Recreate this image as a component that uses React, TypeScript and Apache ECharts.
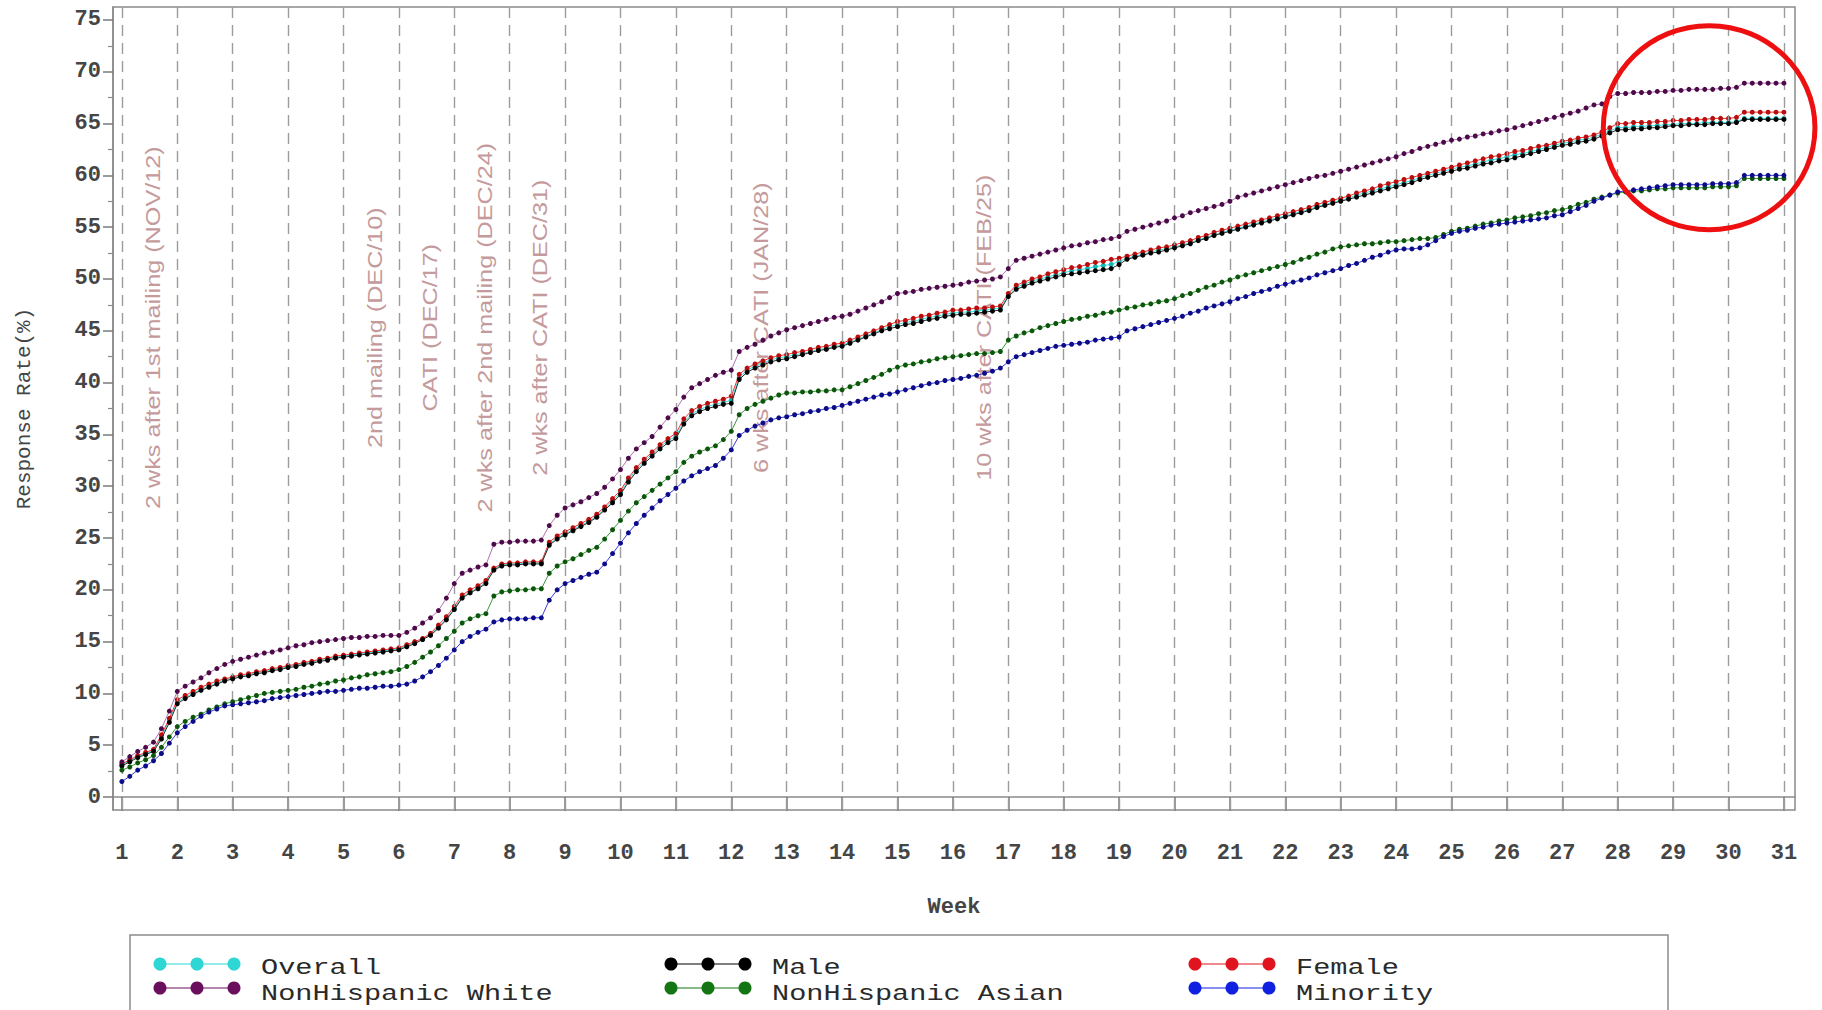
import React, { useEffect, useRef } from "react";
import * as echarts from "echarts";

// Axis ticks
const WEEK_TICKS = [1, 2, 3, 4, 5, 6, 7, 8, 9, 10, 11, 12, 13, 14, 15, 16, 17, 18, 19, 20, 21, 22, 23, 24, 25, 26, 27, 28, 29, 30, 31];
const RATE_TICKS = [0, 5, 10, 15, 20, 25, 30, 35, 40, 45, 50, 55, 60, 65, 70, 75];
const RATE_MINOR_TICKS = [2.5, 7.5, 12.5, 17.5, 22.5, 27.5, 32.5, 37.5, 42.5, 47.5, 52.5, 57.5, 62.5, 67.5, 72.5];

// Daily cumulative response rate (%), one row per week (7 days), last value = week 31
const overall = [
  3.1, 3.5, 3.9, 4.2, 4.5, 5.8, 7.4,
  9.2, 9.6, 10.0, 10.4, 10.7, 11.0, 11.3,
  11.5, 11.7, 11.8, 12.0, 12.1, 12.3, 12.4,
  12.6, 12.7, 12.9, 13.0, 13.2, 13.3, 13.5,
  13.6, 13.7, 13.8, 13.9, 14.0, 14.1, 14.2,
  14.3, 14.6, 14.9, 15.2, 15.7, 16.4, 17.2,
  18.2, 19.3, 19.8, 20.2, 20.7, 22.0, 22.4,
  22.5, 22.5, 22.6, 22.6, 22.6, 24.4, 25.0,
  25.4, 25.8, 26.2, 26.6, 27.1, 27.8, 28.6,
  29.4, 30.6, 31.6, 32.4, 33.1, 33.8, 34.4,
  34.8, 36.2, 37.0, 37.4, 37.7, 37.9, 38.1,
  38.3, 40.5, 41.2, 41.6, 41.9, 42.2, 42.4,
  42.5, 42.7, 42.8, 43.0, 43.2, 43.3, 43.5,
  43.6, 43.9, 44.2, 44.5, 44.8, 45.1, 45.4,
  45.6, 45.8, 45.9, 46.1, 46.3, 46.4, 46.6,
  46.7, 46.8, 46.8, 46.9, 47.0, 47.1, 47.2,
  48.4, 49.2, 49.5, 49.8, 50.0, 50.2, 50.4,
  50.6, 50.8, 50.9, 51.0, 51.2, 51.3, 51.4,
  51.7, 52.0, 52.2, 52.4, 52.6, 52.8, 52.9,
  53.1, 53.3, 53.5, 53.8, 54.0, 54.3, 54.5,
  54.7, 54.9, 55.1, 55.3, 55.5, 55.7, 55.9,
  56.1, 56.3, 56.5, 56.7, 57.0, 57.2, 57.4,
  57.6, 57.8, 58.1, 58.3, 58.5, 58.7, 58.9,
  59.1, 59.3, 59.5, 59.8, 60.0, 60.2, 60.4,
  60.6, 60.8, 60.9, 61.1, 61.3, 61.5, 61.6,
  61.8, 62.0, 62.1, 62.3, 62.5, 62.7, 62.9,
  63.1, 63.2, 63.4, 63.5, 63.7, 64.0, 64.3,
  64.6, 64.6, 64.7, 64.7, 64.8, 64.8, 64.9,
  64.9, 65.0, 65.0, 65.0, 65.1, 65.1, 65.1,
  65.1, 65.2, 65.5, 65.5, 65.5, 65.5, 65.5,
  65.5,
];

const nonHispanicWhite = [
  3.4, 3.9, 4.4, 4.8, 5.3, 6.6, 8.3,
  10.2, 10.7, 11.1, 11.5, 12.0, 12.4, 12.8,
  13.1, 13.3, 13.5, 13.7, 13.9, 14.0, 14.2,
  14.4, 14.6, 14.7, 14.9, 15.0, 15.1, 15.2,
  15.3, 15.4, 15.4, 15.5, 15.5, 15.6, 15.6,
  15.6, 15.9, 16.3, 16.8, 17.3, 18.0, 19.2,
  20.6, 21.6, 21.9, 22.2, 22.4, 24.4, 24.6,
  24.6, 24.7, 24.7, 24.7, 24.8, 26.2, 27.2,
  27.9, 28.2, 28.5, 28.9, 29.3, 29.9, 30.7,
  31.6, 32.7, 33.6, 34.2, 34.8, 35.7, 36.6,
  37.4, 38.6, 39.5, 39.9, 40.3, 40.7, 41.0,
  41.2, 43.0, 43.4, 43.7, 44.1, 44.5, 44.8,
  45.1, 45.3, 45.5, 45.7, 45.9, 46.1, 46.3,
  46.4, 46.6, 46.9, 47.2, 47.5, 47.8, 48.2,
  48.6, 48.7, 48.8, 49.0, 49.1, 49.2, 49.3,
  49.4, 49.5, 49.7, 49.8, 49.9, 50.0, 50.2,
  51.0, 51.8, 52.0, 52.2, 52.4, 52.6, 52.8,
  53.0, 53.2, 53.3, 53.5, 53.6, 53.8, 53.9,
  54.1, 54.6, 54.8, 55.0, 55.2, 55.4, 55.6,
  55.9, 56.1, 56.4, 56.6, 56.8, 57.0, 57.2,
  57.5, 57.9, 58.1, 58.3, 58.5, 58.7, 58.9,
  59.1, 59.3, 59.5, 59.7, 59.9, 60.0, 60.2,
  60.4, 60.6, 60.8, 61.0, 61.2, 61.4, 61.6,
  61.8, 62.1, 62.3, 62.6, 62.8, 63.0, 63.2,
  63.4, 63.5, 63.7, 63.8, 64.0, 64.1, 64.3,
  64.4, 64.6, 64.8, 65.0, 65.2, 65.4, 65.6,
  65.8, 66.0, 66.2, 66.5, 66.8, 66.9, 67.6,
  67.9, 67.9, 68.0, 68.0, 68.0, 68.1, 68.1,
  68.2, 68.2, 68.3, 68.3, 68.3, 68.3, 68.4,
  68.4, 68.5, 68.9, 68.9, 68.9, 68.9, 68.9,
  68.9,
];

const male = [
  3.0, 3.4, 3.8, 4.1, 4.4, 5.6, 7.2,
  9.0, 9.5, 9.9, 10.3, 10.6, 10.9, 11.2,
  11.4, 11.6, 11.7, 11.9, 12.0, 12.2, 12.3,
  12.5, 12.6, 12.8, 12.9, 13.1, 13.2, 13.4,
  13.5, 13.6, 13.7, 13.8, 13.9, 14.0, 14.1,
  14.2, 14.5, 14.8, 15.2, 15.6, 16.3, 17.1,
  18.1, 19.2, 19.7, 20.1, 20.6, 21.9, 22.3,
  22.4, 22.4, 22.5, 22.5, 22.5, 24.3, 24.9,
  25.3, 25.7, 26.1, 26.5, 27.0, 27.7, 28.4,
  29.2, 30.4, 31.4, 32.2, 32.9, 33.6, 34.2,
  34.6, 36.0, 36.8, 37.2, 37.5, 37.7, 37.9,
  38.0, 40.3, 41.0, 41.4, 41.7, 42.0, 42.2,
  42.3, 42.5, 42.7, 42.9, 43.1, 43.2, 43.4,
  43.5, 43.8, 44.1, 44.4, 44.7, 45.0, 45.2,
  45.4, 45.6, 45.7, 45.9, 46.1, 46.2, 46.4,
  46.5, 46.6, 46.6, 46.7, 46.8, 46.9, 47.0,
  48.3, 49.0, 49.3, 49.6, 49.8, 50.0, 50.2,
  50.4, 50.5, 50.6, 50.7, 50.8, 50.9, 51.0,
  51.4, 51.9, 52.1, 52.3, 52.5, 52.6, 52.8,
  53.0, 53.2, 53.4, 53.7, 53.9, 54.2, 54.4,
  54.6, 54.8, 55.0, 55.2, 55.4, 55.6, 55.8,
  56.0, 56.2, 56.4, 56.6, 56.9, 57.1, 57.3,
  57.5, 57.7, 57.9, 58.1, 58.3, 58.5, 58.7,
  58.9, 59.1, 59.3, 59.6, 59.8, 60.0, 60.2,
  60.4, 60.6, 60.7, 60.9, 61.1, 61.2, 61.4,
  61.5, 61.7, 61.9, 62.1, 62.3, 62.5, 62.7,
  62.9, 63.0, 63.2, 63.3, 63.5, 63.8, 64.1,
  64.4, 64.4, 64.5, 64.5, 64.6, 64.6, 64.7,
  64.8, 64.8, 64.9, 64.9, 64.9, 65.0, 65.0,
  65.0, 65.1, 65.4, 65.4, 65.4, 65.4, 65.4,
  65.4,
];

const nonHispanicAsian = [
  2.6, 2.9, 3.3, 3.6, 4.0, 4.8, 5.8,
  6.8, 7.3, 7.7, 8.0, 8.4, 8.7, 9.0,
  9.2, 9.4, 9.6, 9.8, 10.0, 10.1, 10.2,
  10.3, 10.4, 10.6, 10.7, 10.9, 11.0, 11.2,
  11.3, 11.5, 11.6, 11.8, 11.9, 12.0, 12.1,
  12.3, 12.6, 13.0, 13.5, 14.0, 14.6, 15.3,
  16.0, 16.8, 17.2, 17.5, 17.7, 19.4, 19.8,
  19.9, 20.0, 20.0, 20.1, 20.1, 21.6, 22.3,
  22.7, 23.0, 23.4, 23.8, 24.1, 24.9, 25.8,
  26.7, 27.6, 28.4, 29.0, 29.6, 30.2, 30.8,
  31.4, 32.3, 32.9, 33.3, 33.6, 33.9, 34.5,
  35.3, 36.9, 37.5, 37.9, 38.2, 38.5, 38.8,
  39.0, 39.0, 39.1, 39.1, 39.2, 39.2, 39.3,
  39.3, 39.6, 39.9, 40.2, 40.5, 40.8, 41.2,
  41.5, 41.7, 41.8, 42.0, 42.1, 42.3, 42.4,
  42.5, 42.6, 42.7, 42.8, 42.8, 42.9, 43.0,
  44.1, 44.5, 44.8, 45.0, 45.3, 45.5, 45.7,
  45.9, 46.1, 46.2, 46.4, 46.5, 46.7, 46.8,
  47.0, 47.2, 47.3, 47.5, 47.6, 47.8, 47.9,
  48.1, 48.4, 48.6, 48.9, 49.2, 49.4, 49.7,
  49.9, 50.2, 50.4, 50.6, 50.8, 51.0, 51.2,
  51.4, 51.6, 51.9, 52.1, 52.4, 52.6, 52.9,
  53.1, 53.2, 53.3, 53.4, 53.4, 53.5, 53.6,
  53.6, 53.7, 53.8, 53.9, 53.9, 54.0, 54.3,
  54.6, 54.8, 54.9, 55.1, 55.3, 55.4, 55.6,
  55.7, 55.9, 56.0, 56.1, 56.3, 56.4, 56.6,
  56.7, 56.9, 57.2, 57.4, 57.7, 57.9, 58.1,
  58.3, 58.4, 58.5, 58.5, 58.6, 58.7, 58.7,
  58.8, 58.8, 58.8, 58.8, 58.8, 58.9, 58.9,
  58.9, 59.0, 59.7, 59.7, 59.7, 59.7, 59.7,
  59.7,
];

const female = [
  3.2, 3.6, 4.0, 4.3, 4.6, 6.0, 7.6,
  9.4, 9.8, 10.2, 10.6, 10.9, 11.2, 11.4,
  11.6, 11.8, 11.9, 12.1, 12.2, 12.4, 12.5,
  12.7, 12.8, 13.0, 13.1, 13.3, 13.4, 13.6,
  13.7, 13.8, 13.9, 14.0, 14.1, 14.2, 14.3,
  14.4, 14.7, 15.0, 15.3, 15.8, 16.6, 17.4,
  18.4, 19.5, 20.0, 20.4, 20.9, 22.1, 22.5,
  22.6, 22.6, 22.7, 22.7, 22.7, 24.6, 25.2,
  25.6, 26.0, 26.4, 26.8, 27.3, 28.0, 28.8,
  29.6, 30.8, 31.8, 32.6, 33.3, 34.0, 34.6,
  35.1, 36.5, 37.3, 37.7, 38.0, 38.2, 38.4,
  38.7, 40.8, 41.4, 41.8, 42.1, 42.4, 42.6,
  42.7, 42.9, 43.0, 43.2, 43.4, 43.5, 43.7,
  43.8, 44.1, 44.4, 44.7, 45.0, 45.3, 45.6,
  45.9, 46.0, 46.2, 46.4, 46.5, 46.7, 46.8,
  47.0, 47.0, 47.1, 47.2, 47.2, 47.3, 47.4,
  48.6, 49.4, 49.7, 50.0, 50.2, 50.5, 50.7,
  50.9, 51.1, 51.2, 51.4, 51.6, 51.7, 51.9,
  52.0, 52.2, 52.4, 52.6, 52.8, 53.0, 53.1,
  53.3, 53.5, 53.7, 54.0, 54.2, 54.5, 54.7,
  54.9, 55.1, 55.3, 55.5, 55.7, 55.9, 56.1,
  56.3, 56.5, 56.7, 56.9, 57.2, 57.4, 57.6,
  57.8, 58.0, 58.3, 58.5, 58.7, 59.0, 59.2,
  59.4, 59.6, 59.8, 60.0, 60.2, 60.4, 60.6,
  60.8, 61.0, 61.2, 61.4, 61.6, 61.8, 61.9,
  62.1, 62.3, 62.4, 62.6, 62.8, 62.9, 63.1,
  63.3, 63.4, 63.6, 63.7, 63.9, 64.2, 64.6,
  65.0, 65.0, 65.1, 65.1, 65.1, 65.2, 65.2,
  65.3, 65.3, 65.4, 65.4, 65.4, 65.5, 65.5,
  65.5, 65.6, 66.1, 66.1, 66.1, 66.1, 66.1,
  66.1,
];

const minority = [
  1.5, 2.0, 2.6, 3.0, 3.5, 4.2, 5.2,
  6.2, 6.8, 7.3, 7.8, 8.2, 8.5, 8.8,
  8.9, 9.0, 9.1, 9.2, 9.3, 9.5, 9.6,
  9.7, 9.8, 9.9, 10.0, 10.1, 10.2, 10.2,
  10.3, 10.4, 10.5, 10.5, 10.6, 10.7, 10.7,
  10.8, 10.9, 11.2, 11.6, 12.1, 12.7, 13.4,
  14.2, 15.0, 15.5, 15.9, 16.2, 16.9, 17.1,
  17.2, 17.2, 17.2, 17.3, 17.3, 19.0, 20.0,
  20.6, 20.9, 21.2, 21.5, 21.7, 22.5, 23.5,
  24.5, 25.5, 26.4, 27.2, 27.9, 28.6, 29.2,
  29.8, 30.5, 31.0, 31.4, 31.7, 32.0, 32.7,
  33.5, 34.9, 35.4, 35.8, 36.1, 36.4, 36.6,
  36.7, 36.9, 37.0, 37.2, 37.3, 37.5, 37.6,
  37.8, 38.0, 38.2, 38.4, 38.6, 38.8, 38.9,
  39.1, 39.3, 39.5, 39.7, 39.9, 40.0, 40.2,
  40.3, 40.4, 40.6, 40.7, 40.9, 41.1, 41.4,
  42.0, 42.5, 42.7, 42.9, 43.1, 43.3, 43.5,
  43.6, 43.7, 43.8, 43.9, 44.1, 44.2, 44.3,
  44.4, 45.0, 45.2, 45.4, 45.6, 45.8, 46.0,
  46.2, 46.4, 46.7, 46.9, 47.2, 47.4, 47.6,
  47.8, 48.1, 48.3, 48.6, 48.8, 49.0, 49.3,
  49.5, 49.7, 49.9, 50.1, 50.4, 50.6, 50.8,
  51.0, 51.3, 51.5, 51.8, 52.1, 52.3, 52.6,
  52.8, 52.9, 52.9, 53.0, 53.3, 53.7, 54.1,
  54.4, 54.6, 54.7, 54.9, 55.0, 55.2, 55.3,
  55.4, 55.5, 55.6, 55.7, 55.8, 55.9, 56.1,
  56.2, 56.5, 56.8, 57.1, 57.5, 57.8, 58.1,
  58.4, 58.5, 58.6, 58.7, 58.8, 58.9, 59.0,
  59.1, 59.1, 59.1, 59.1, 59.1, 59.2, 59.2,
  59.2, 59.3, 60.0, 60.0, 60.0, 60.0, 60.0,
  60.0,
];

// Fieldwork events, anchored at a week position
const EVENT_WEEKS = [1.56, 5.57, 6.56, 7.55, 8.55, 12.53, 16.56];
const EVENT_LABELS = [
  "2 wks after 1st mailing (NOV/12)",
  "2nd mailing (DEC/10)",
  "CATI (DEC/17)",
  "2 wks after 2nd mailing (DEC/24)",
  "2 wks after CATI (DEC/31)",
  "6 wks after CATI (JAN/28)",
  "10 wks after CATI (FEB/25)",
];

const DAYS_PER_WEEK = 7;

type Group = { name: string; values: number[]; dot: string; line: string };

// Drawing order: first entry is drawn underneath
const GROUPS: Group[] = [
  { name: "Overall", values: overall, dot: "#12b8b8", line: "#3fe0e0" },
  { name: "Female", values: female, dot: "#b80e0e", line: "#ee3030" },
  { name: "Male", values: male, dot: "#000000", line: "#2a2a2a" },
  { name: "NonHispanic White", values: nonHispanicWhite, dot: "#4c0a48", line: "#b070b0" },
  { name: "NonHispanic Asian", values: nonHispanicAsian, dot: "#0c560c", line: "#3c9a3c" },
  { name: "Minority", values: minority, dot: "#0c0c86", line: "#3a3ae0" },
];

// Legend layout: three columns of two rows
const LEGEND_ORDER = [
  ["Overall", "NonHispanic White"],
  ["Male", "NonHispanic Asian"],
  ["Female", "Minority"],
];
const LEGEND_SWATCH: Record<string, string> = {
  Overall: "#2ed6d6",
  "NonHispanic White": "#6a0f5e",
  Male: "#000000",
  "NonHispanic Asian": "#137513",
  Female: "#e0141e",
  Minority: "#1020e0",
};

const MONO = '"Liberation Mono", "DejaVu Sans Mono", monospace';
const AXIS_GRAY = "#8a8a8a";
const LABEL_GRAY = "#454545";

function toPoints(values: number[]) {
  return values.map((v, i) => [1 + i / DAYS_PER_WEEK, v]);
}

function buildOption(): echarts.EChartsCoreOption {
  const lineSeries = GROUPS.map((g, k) => ({
    type: "line",
    name: g.name,
    data: toPoints(g.values),
    symbol: "circle",
    symbolSize: 5,
    showSymbol: true,
    showAllSymbol: true,
    z: 3 + k,
    itemStyle: { color: g.dot },
    lineStyle: { color: g.line, width: 1 },
    emphasis: { disabled: true },
  }));

  return {
    animation: false,
    backgroundColor: "#ffffff",
    grid: {
      left: 113,
      top: 7,
      right: 27,
      bottom: 200,
      show: true,
      borderColor: AXIS_GRAY,
      borderWidth: 1.5,
      backgroundColor: "transparent",
    },
    xAxis: {
      type: "value",
      min: 0.84,
      max: 31.2,
      name: "Week",
      nameLocation: "middle",
      nameGap: 86,
      nameTextStyle: { fontFamily: MONO, fontSize: 22, color: LABEL_GRAY, fontWeight: "bold" },
      axisLine: { show: true, lineStyle: { color: AXIS_GRAY, width: 1.5 } },
      axisTick: { show: true, customValues: WEEK_TICKS, length: 14, lineStyle: { color: "#7a7a7a", width: 1.5 } },
      axisLabel: {
        customValues: WEEK_TICKS,
        margin: 32,
        fontFamily: MONO,
        fontSize: 22,
        color: LABEL_GRAY,
        fontWeight: "bold",
      },
      splitLine: { show: false },
    },
    yAxis: [
      {
        type: "value",
        min: -1.25,
        max: 76.25,
        name: "Response Rate(%)",
        nameLocation: "middle",
        nameRotate: 90,
        nameGap: 78,
        nameTextStyle: { fontFamily: MONO, fontSize: 21, color: LABEL_GRAY },
        axisLine: { show: true, lineStyle: { color: AXIS_GRAY, width: 1.5 } },
        axisTick: { show: true, customValues: RATE_TICKS, length: 10, lineStyle: { color: "#7a7a7a", width: 1.5 } },
        axisLabel: {
          customValues: RATE_TICKS,
          margin: 12,
          fontFamily: MONO,
          fontSize: 22,
          color: LABEL_GRAY,
          fontWeight: "bold",
        },
        splitLine: { show: false },
      },
      {
        type: "value",
        min: -1.25,
        max: 76.25,
        position: "left",
        axisLine: { show: false },
        axisTick: { show: true, customValues: RATE_MINOR_TICKS, length: 5, lineStyle: { color: "#8a8a8a", width: 1.2 } },
        axisLabel: { show: false },
        splitLine: { show: false },
      },
    ],
    series: [
      {
        type: "line",
        name: "week lines",
        data: [],
        z: 1,
        silent: true,
        markLine: {
          silent: true,
          symbol: ["none", "none"],
          label: { show: false },
          emphasis: { disabled: true },
          lineStyle: { type: [11, 7], color: "#9c9c9c", width: 1.4 },
          data: WEEK_TICKS.map((w) => ({ xAxis: w })),
        },
      },
      ...lineSeries,
    ],
  };
}

function buildGraphics(chart: echarts.ECharts) {
  const px = (w: number, v: number) => chart.convertToPixel({ xAxisIndex: 0, yAxisIndex: 0 }, [w, v]) as number[];
  const elements: any[] = [];

  // Rotated event annotations, stretched along the reading direction
  EVENT_WEEKS.forEach((w, i) => {
    const [x, y] = px(w, 45.3);
    elements.push({
      type: "text",
      x,
      y,
      rotation: Math.PI / 2,
      scaleX: 1.2,
      z: 2,
      silent: true,
      style: {
        text: EVENT_LABELS[i],
        fill: "#c49a9c",
        fontFamily: '"Liberation Sans", Arial, sans-serif',
        fontSize: 21,
        align: "center",
        verticalAlign: "middle",
      },
    });
  });

  // Highlight ring around the final weeks
  const [cx, cy] = px(29.65, 64.6);
  const [ex] = px(31.56, 64.6);
  const [, ey] = px(29.65, 54.75);
  elements.push({
    type: "ellipse",
    z: 50,
    silent: true,
    shape: { cx, cy, rx: ex - cx, ry: ey - cy },
    style: { fill: "none", stroke: "#ee1010", lineWidth: 5 },
  });

  // Legend frame
  elements.push({
    type: "rect",
    z: 10,
    silent: true,
    shape: { x: 130, y: 935, width: 1538, height: 120 },
    style: { fill: "#ffffff", stroke: "#8c8c8c", lineWidth: 1.5 },
  });

  const colX = [160, 671, 1195];
  const swatchY = [964, 988];
  const textY = [968, 994];
  LEGEND_ORDER.forEach((col, c) => {
    col.forEach((name, r) => {
      const color = LEGEND_SWATCH[name];
      const x0 = colX[c];
      const y0 = swatchY[r];
      elements.push({
        type: "line",
        z: 11,
        silent: true,
        shape: { x1: x0, y1: y0, x2: x0 + 74, y2: y0 },
        style: { stroke: color, lineWidth: 1.2 },
      });
      [0, 37, 74].forEach((dx) => {
        elements.push({
          type: "circle",
          z: 12,
          silent: true,
          shape: { cx: x0 + dx, cy: y0, r: 6.5 },
          style: { fill: color },
        });
      });
      elements.push({
        type: "text",
        z: 12,
        silent: true,
        x: x0 + 101,
        y: textY[r],
        scaleX: 1.3,
        style: {
          text: name,
          fill: "#2a2a2a",
          fontFamily: MONO,
          fontSize: 22,
          align: "left",
          verticalAlign: "middle",
        },
      });
    });
  });

  return elements;
}

export default function App() {
  const ref = useRef<HTMLDivElement>(null);

  useEffect(() => {
    const el = ref.current;
    if (!el) return;
    const chart = echarts.init(el, null, { renderer: "svg" });
    chart.setOption(buildOption());
    chart.setOption({ graphic: buildGraphics(chart) });
    return () => chart.dispose();
  }, []);

  return (
    <div
      ref={ref}
      style={{ position: "fixed", left: 0, top: 0, width: 1822, height: 1010, background: "#ffffff" }}
    />
  );
}
